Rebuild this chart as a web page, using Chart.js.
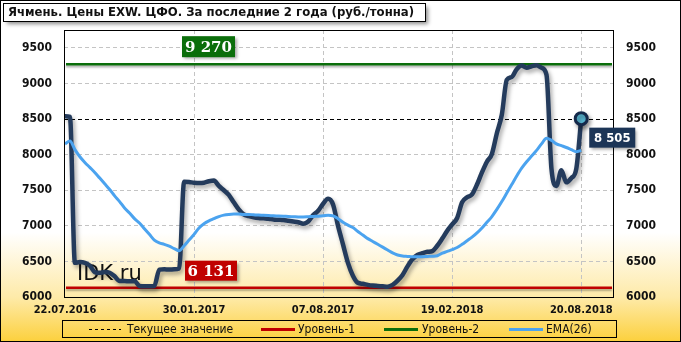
<!DOCTYPE html>
<html>
<head>
<meta charset="utf-8">
<script src="https://cdn.jsdelivr.net/npm/chart.js@4.4.0/dist/chart.umd.min.js"></script>
<style>
  html, body { margin: 0; padding: 0; background: #fff; }
</style>
</head>
<body>
<canvas id="priceChart" width="681" height="342"></canvas>
<script>
const titleText = "Ячмень. Цены EXW. ЦФО. За последние 2 года (руб./тонна)";
const dateLabels = ["22.07.2016", "30.01.2017", "07.08.2017", "19.02.2018", "20.08.2018"];
const dateLabelIdx = [0, 26, 52, 78, 104];
const yTicks = [6000, 6500, 7000, 7500, 8000, 8500, 9000, 9500];
const legendLabels = ["Текущее значение", "Уровень-1", "Уровень-2", "EMA(26)"];

const currentValue = 8505;
const level1 = 6131;
const level2 = 9270;

// weekly price, rub/t
const prices = [
  8540, 8530, 6480, 6490, 6480, 6440, 6350, 6340, 6350, 6340,
  6290, 6225, 6225, 6220, 6225, 6155, 6150, 6150, 6155, 6385,
  6390, 6385, 6390, 6400, 7620, 7615, 7605, 7600, 7605, 7625,
  7635, 7560, 7500, 7435, 7330, 7230, 7160, 7135, 7120, 7110,
  7105, 7100, 7090, 7085, 7080, 7070, 7060, 7050, 7030, 7060,
  7150, 7210, 7310, 7380, 7300, 7000, 6740, 6480, 6300, 6200,
  6185, 6170, 6160, 6155, 6150, 6145, 6170, 6230, 6310, 6430,
  6530, 6590, 6615, 6635, 6645, 6720, 6820, 6930, 7020, 7110,
  7330, 7400, 7440, 7580, 7750, 7900, 8010, 8300, 8560, 9050,
  9090, 9200, 9250, 9220, 9240, 9255, 9220, 9120, 7800, 7560,
  7780, 7610, 7670, 7800, 8505
];

const ema26 = [
  8150, 8190, 8070, 7970, 7890, 7820, 7750, 7670, 7590, 7510,
  7420, 7340, 7250, 7180, 7100, 7040, 6960, 6880, 6800, 6760,
  6740, 6715, 6680, 6650, 6720, 6800, 6880, 6970, 7030, 7070,
  7100, 7130, 7150, 7160, 7165, 7165, 7160, 7160, 7155, 7150,
  7148, 7145, 7140, 7138, 7135, 7130, 7128, 7125, 7125, 7128,
  7132, 7135, 7140, 7148, 7140, 7100, 7050, 7010, 6975, 6920,
  6870, 6820, 6780, 6740, 6700, 6660, 6620, 6590, 6575, 6570,
  6565, 6565, 6566, 6570, 6572, 6580, 6615, 6640, 6665, 6695,
  6740, 6790, 6840, 6900, 6970, 7050, 7130, 7230, 7340, 7460,
  7580, 7700, 7810, 7900, 7980, 8060, 8150, 8230, 8200, 8150,
  8125, 8100, 8070, 8040, 8060
];

const FONT = "'DejaVu Sans Condensed', 'DejaVu Sans', sans-serif";
const lastIdx = prices.length - 1;

function fmtNum(v) {
  return String(v).replace(/\B(?=(\d{3})+(?!\d))/g, " ");
}

function tagBox(ctx, x, y, w, h, fill, text, font) {
  ctx.save();
  ctx.shadowColor = "rgba(0,0,0,0.35)";
  ctx.shadowBlur = 3;
  ctx.shadowOffsetX = 2;
  ctx.shadowOffsetY = 2;
  ctx.fillStyle = fill;
  ctx.fillRect(x, y, w, h);
  ctx.restore();
  ctx.fillStyle = "#fff";
  ctx.font = font;
  ctx.textAlign = "center";
  ctx.textBaseline = "middle";
  ctx.fillText(text, x + w / 2, y + h / 2 + 1);
}

const decor = {
  id: "decor",
  beforeDraw(chart) {
    const { ctx, width, height } = chart;
    const g = ctx.createLinearGradient(0, 0, 0, height);
    g.addColorStop(0, "#ffffff");
    g.addColorStop(0.68, "#ffffff");
    g.addColorStop(0.87, "#feeaa8");
    g.addColorStop(1, "#fcd03c");
    ctx.save();
    ctx.fillStyle = g;
    ctx.fillRect(0, 0, width, height);
    ctx.restore();
  },
  beforeDatasetsDraw(chart) {
    const { ctx, chartArea: ca } = chart;
    const y = chart.scales.y;
    ctx.save();
    // watermark
    ctx.fillStyle = "#111";
    ctx.font = "21px 'DejaVu Sans', sans-serif";
    ctx.textBaseline = "alphabetic";
    ctx.fillText("IDK.ru", 77, 280);

    ctx.shadowColor = "rgba(0,0,0,0.3)";
    ctx.shadowBlur = 2;
    ctx.shadowOffsetY = 2;
    ctx.lineWidth = 2.5;
    ctx.strokeStyle = "#0b6e0b";
    ctx.beginPath();
    ctx.moveTo(ca.left + 2, y.getPixelForValue(level2));
    ctx.lineTo(ca.right - 2, y.getPixelForValue(level2));
    ctx.stroke();
    ctx.strokeStyle = "#c00000";
    ctx.beginPath();
    ctx.moveTo(ca.left + 2, y.getPixelForValue(level1));
    ctx.lineTo(ca.right - 2, y.getPixelForValue(level1));
    ctx.stroke();
    ctx.restore();

    ctx.save();
    ctx.strokeStyle = "#000";
    ctx.lineWidth = 1;
    ctx.setLineDash([4, 3]);
    const yc = Math.round(y.getPixelForValue(currentValue)) + 0.5;
    ctx.beginPath();
    ctx.moveTo(ca.left, yc);
    ctx.lineTo(ca.right, yc);
    ctx.stroke();
    ctx.restore();
  },
  beforeDatasetDraw(chart, args) {
    if (args.index === 1) {
      const ctx = chart.ctx;
      ctx.save();
      ctx.shadowColor = "rgba(0,0,0,0.35)";
      ctx.shadowBlur = 4;
      ctx.shadowOffsetX = 2;
      ctx.shadowOffsetY = 3;
    }
  },
  afterDatasetDraw(chart, args) {
    if (args.index === 1) chart.ctx.restore();
  },
  afterDatasetsDraw(chart) {
    const { ctx, chartArea: ca, width, height } = chart;
    const y = chart.scales.y;
    const x = chart.scales.x;

    ctx.save();
    ctx.strokeStyle = "#000";
    ctx.lineWidth = 1;
    ctx.strokeRect(ca.left + 0.5, ca.top + 0.5, ca.right - ca.left - 1, ca.bottom - ca.top);

    const serif = "bold 15px 'DejaVu Serif', serif";
    tagBox(ctx, 182, y.getPixelForValue(level2) - 28, 53, 21, "#0b6e0b", fmtNum(level2), serif);
    tagBox(ctx, 185, y.getPixelForValue(level1) - 27, 52, 20, "#c00000", fmtNum(level1), serif);

    const lx = x.getPixelForValue(lastIdx);
    const ly = y.getPixelForValue(prices[lastIdx]);
    tagBox(ctx, lx + 8, ly + 9, 46, 20, "#1c3557", fmtNum(currentValue), "bold 13px " + FONT);

    // title
    ctx.save();
    ctx.shadowColor = "rgba(0,0,0,0.45)";
    ctx.shadowBlur = 4;
    ctx.shadowOffsetX = 3;
    ctx.shadowOffsetY = 3;
    ctx.fillStyle = "#fff";
    ctx.fillRect(4, 4, 421, 17);
    ctx.restore();
    ctx.strokeStyle = "#000";
    ctx.strokeRect(3.5, 3.5, 422, 18);
    ctx.fillStyle = "#111";
    ctx.font = "bold 13px " + FONT;
    ctx.textAlign = "left";
    ctx.textBaseline = "middle";
    ctx.fillText(titleText, 8, 13);

    // legend
    ctx.strokeRect(62.5, 320.5, 554, 17);
    const items = [
      { x0: 89, x1: 121, tx: 127, color: "#000", w: 1, dash: [3, 3] },
      { x0: 261, x1: 295, tx: 298, color: "#c00000", w: 3, dash: [] },
      { x0: 384, x1: 418, tx: 422, color: "#0b6e0b", w: 3, dash: [] },
      { x0: 509, x1: 543, tx: 546, color: "#4ba3ef", w: 3, dash: [] }
    ];
    ctx.font = "12px " + FONT;
    items.forEach((it, i) => {
      ctx.save();
      ctx.strokeStyle = it.color;
      ctx.lineWidth = it.w;
      ctx.setLineDash(it.dash);
      ctx.beginPath();
      ctx.moveTo(it.x0, 329.5);
      ctx.lineTo(it.x1, 329.5);
      ctx.stroke();
      ctx.restore();
      ctx.fillStyle = "#111";
      ctx.fillText(legendLabels[i], it.tx, 330);
    });

    ctx.strokeStyle = "#000";
    ctx.strokeRect(0.5, 0.5, width - 1, height - 1);
    ctx.restore();
  }
};

const yTickOpts = {
  padding: 12,
  color: "#111",
  font: { family: FONT, size: 12, weight: "bold" },
  callback: (v) => String(v)
};

new Chart(document.getElementById("priceChart"), {
  type: "line",
  data: {
    datasets: [
      {
        label: "EMA(26)",
        data: ema26.map((v, i) => ({ x: i, y: v })),
        borderColor: "#4ba3ef",
        borderWidth: 3,
        pointRadius: 0,
        cubicInterpolationMode: "monotone",
        order: 0
      },
      {
        label: "Цена",
        data: prices.map((v, i) => ({ x: i, y: v })),
        borderColor: "#243b5c",
        borderWidth: 4.5,
        pointRadius: (c) => (c.dataIndex === lastIdx ? 6 : 0),
        pointBackgroundColor: "#5bbcd8",
        pointBorderColor: "#14294a",
        pointBorderWidth: 3,
        cubicInterpolationMode: "monotone",
        order: 1
      }
    ]
  },
  options: {
    responsive: false,
    animation: false,
    layout: { padding: { top: 30, bottom: 20, left: 0, right: 0 } },
    plugins: {
      legend: { display: false },
      tooltip: { enabled: false }
    },
    scales: {
      x: {
        type: "linear",
        min: -0.2,
        max: 110.6,
        afterBuildTicks: (s) => { s.ticks = dateLabelIdx.map((v) => ({ value: v })); },
        afterFit: (s) => { s.height = 25; },
        grid: {
          color: (c) => (c.tick && c.tick.value === 0 ? "rgba(0,0,0,0)" : "#c4c4c4"),
          drawTicks: false
        },
        border: { display: false, dash: [4, 3] },
        ticks: {
          padding: 7,
          autoSkip: false,
          maxRotation: 0,
          color: "#111",
          font: { family: FONT, size: 11, weight: "bold" },
          callback: (v) => {
            const k = dateLabelIdx.indexOf(v);
            return k >= 0 ? dateLabels[k] : "";
          }
        }
      },
      y: {
        position: "left",
        min: 6000,
        max: 9750,
        afterBuildTicks: (s) => { s.ticks = yTicks.map((v) => ({ value: v })); },
        afterFit: (s) => { s.width = 64; },
        grid: { color: "#c4c4c4", drawTicks: false },
        border: { display: false, dash: [4, 3] },
        ticks: yTickOpts
      },
      y2: {
        position: "right",
        min: 6000,
        max: 9750,
        afterBuildTicks: (s) => { s.ticks = yTicks.map((v) => ({ value: v })); },
        afterFit: (s) => { s.width = 67; },
        grid: { drawOnChartArea: false, drawTicks: false },
        border: { display: false },
        ticks: yTickOpts
      }
    }
  },
  plugins: [decor]
});
</script>
</body>
</html>
